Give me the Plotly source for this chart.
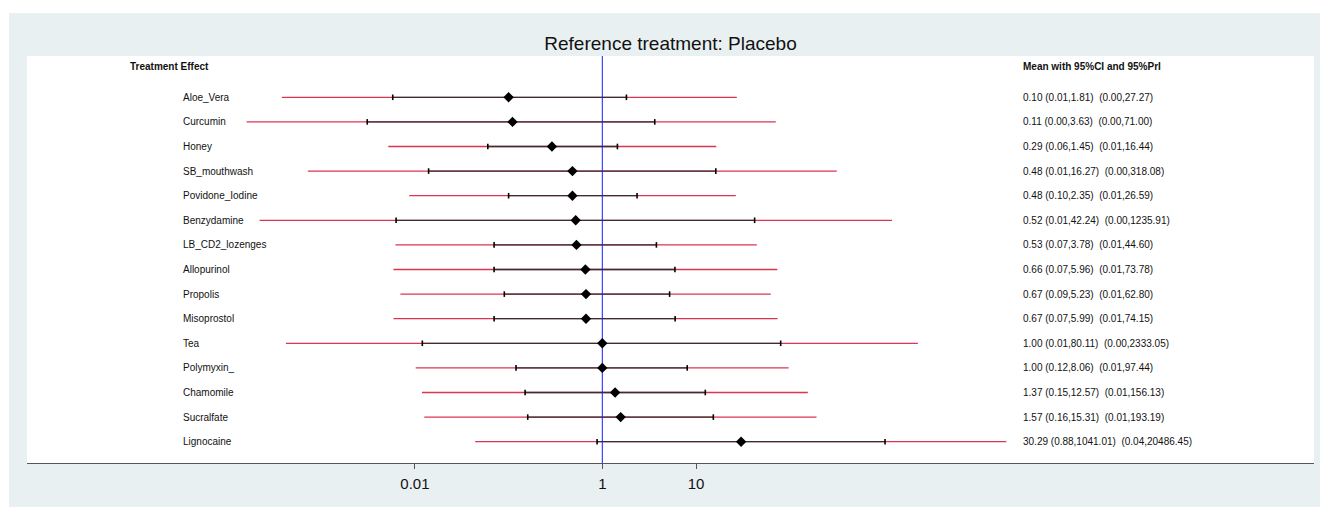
import plotly.graph_objects as go

# ---------------- data ----------------
treatments = ["Aloe_Vera", "Curcumin", "Honey", "SB_mouthwash", "Povidone_Iodine",
              "Benzydamine", "LB_CD2_lozenges", "Allopurinol", "Propolis", "Misoprostol",
              "Tea", "Polymyxin_", "Chamomile", "Sucralfate", "Lignocaine"]
mean = [0.10, 0.11, 0.29, 0.48, 0.48, 0.52, 0.53, 0.66, 0.67, 0.67,
        1.00, 1.00, 1.37, 1.57, 30.29]
ci_lo = [0.0058, 0.0031, 0.06, 0.014, 0.10, 0.0063, 0.07, 0.07, 0.09, 0.07,
         0.012, 0.12, 0.15, 0.16, 0.88]
ci_hi = [1.81, 3.63, 1.45, 16.27, 2.35, 42.24, 3.78, 5.96, 5.23, 5.99,
         80.11, 8.06, 12.57, 15.31, 1041.01]
pri_lo = [0.00038, 0.00016, 0.0052, 0.00072, 0.0087, 0.00022, 0.0062, 0.0059, 0.0070, 0.0059,
          0.00042, 0.0102, 0.0119, 0.0126, 0.044]
pri_hi = [27.27, 71.00, 16.44, 318.08, 26.59, 1235.91, 44.60, 73.78, 62.80, 74.15,
          2333.05, 97.44, 156.13, 193.19, 20486.45]
tick_vals = [0.01, 1, 10]
tick_text = ["0.01", "1", "10"]
title_text = "Reference treatment: Placebo"
left_header = "Treatment Effect"
right_header = "Mean with 95%CI and 95%PrI"
ref_value = 1

# ---------------- layout constants ----------------
W, H = 1320, 507
ML, MR, MT, MB = 27, 6, 56, 44
PW = W - ML - MR
PH = H - MT - MB
ROW0_PX, ROW_STEP = 97.3, 24.6


def px_x(px):
    return (px - ML) / PW


def px_y(py):
    return (H - MB - py) / PH


rows = list(range(len(treatments)))
y_top = (MT - ROW0_PX) / ROW_STEP
y_bot = (H - MB - ROW0_PX) / ROW_STEP

RED = "#dc3552"
DARK = "#333333"

fig = go.Figure()

# prediction intervals (red)
xs, ys = [], []
for i in rows:
    xs += [pri_lo[i], pri_hi[i], None]
    ys += [i, i, None]
fig.add_trace(go.Scatter(x=xs, y=ys, mode="lines", line=dict(color=RED, width=1.3),
                         hoverinfo="skip", showlegend=False))

# confidence intervals (black)
xs, ys = [], []
for i in rows:
    xs += [ci_lo[i], ci_hi[i], None]
    ys += [i, i, None]
fig.add_trace(go.Scatter(x=xs, y=ys, mode="lines", line=dict(color=DARK, width=1.3),
                         hoverinfo="skip", showlegend=False))

# CI end ticks
fig.add_trace(go.Scatter(x=ci_lo + ci_hi, y=rows + rows, mode="markers",
                         marker=dict(symbol="line-ns", size=4,
                                     line=dict(color="black", width=1.6)),
                         hoverinfo="skip", showlegend=False))

# reference line
fig.add_trace(go.Scatter(x=[ref_value, ref_value], y=[y_top, y_bot], mode="lines",
                         line=dict(color="#1a1aff", width=1),
                         hoverinfo="skip", showlegend=False))

# means
fig.add_trace(go.Scatter(x=mean, y=rows, mode="markers",
                         marker=dict(symbol="diamond", size=8, color="black",
                                     line=dict(width=0)),
                         showlegend=False))

annotations = []
font_txt = dict(family="Liberation Sans, Arial", size=10, color="#111111")
for i in rows:
    annotations.append(dict(x=px_x(181), xref="paper", y=i, yref="y", text=treatments[i],
                            showarrow=False, xanchor="left", yanchor="middle", font=font_txt))
    label = (f"{mean[i]:.2f} ({ci_lo[i]:.2f},{ci_hi[i]:.2f})  "
             f"({pri_lo[i]:.2f},{pri_hi[i]:.2f})")
    annotations.append(dict(x=px_x(1021), xref="paper", y=i, yref="y", text=label,
                            showarrow=False, xanchor="left", yanchor="middle", font=font_txt))
annotations.append(dict(x=px_x(128), xref="paper", y=px_y(66), yref="paper",
                        text=f"<b>{left_header}</b>", showarrow=False,
                        xanchor="left", yanchor="middle", font=font_txt))
annotations.append(dict(x=px_x(1021), xref="paper", y=px_y(66), yref="paper",
                        text=f"<b>{right_header}</b>", showarrow=False,
                        xanchor="left", yanchor="middle", font=font_txt))

shapes = [
    dict(type="rect", xref="paper", yref="paper", x0=px_x(0), x1=px_x(9),
         y0=px_y(H), y1=px_y(0), fillcolor="white", line=dict(width=0)),
    dict(type="rect", xref="paper", yref="paper", x0=px_x(0), x1=px_x(W),
         y0=px_y(13), y1=px_y(0), fillcolor="white", line=dict(width=0)),
]

x_left = (ML - 602.3) / 93.7
x_right = (W - MR - 602.3) / 93.7

fig.update_layout(
    width=W, height=H,
    margin=dict(l=ML, r=MR, t=MT, b=MB),
    paper_bgcolor="#e9f0f2",
    plot_bgcolor="white",
    title=dict(text=title_text, x=0.5, xref="paper", xanchor="center",
               y=(H - 43) / H, yref="container", yanchor="middle",
               font=dict(family="Liberation Sans, Arial", size=19, color="#111111")),
    xaxis=dict(type="log", range=[x_left, x_right], tickvals=tick_vals, ticktext=tick_text,
               showgrid=False, zeroline=False, showline=True, linecolor="#555555",
               linewidth=1, ticks="outside", ticklen=5, tickcolor="#555555",
               ticklabelstandoff=2,
               tickfont=dict(family="Liberation Sans, Arial", size=15, color="#111111")),
    yaxis=dict(range=[y_bot, y_top], showgrid=False, zeroline=False, showline=False,
               showticklabels=False, ticks=""),
    annotations=annotations,
    shapes=shapes,
    showlegend=False,
)

fig.write_html("out.html", config={"displayModeBar": False},
               post_script="document.body.style.margin='0';document.body.style.overflow='hidden';")
